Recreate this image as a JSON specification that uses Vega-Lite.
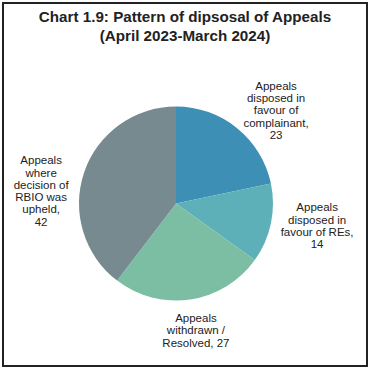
{
  "$schema": "https://vega.github.io/schema/vega-lite/v6.json",
  "width": 364,
  "height": 363,
  "autosize": {"type": "none"},
  "padding": {"left": 3, "top": 3, "right": 4, "bottom": 5},
  "background": "white",
  "config": {
    "view": {"stroke": null},
    "font": "Liberation Sans"
  },
  "title": {
    "text": ["Chart 1.9: Pattern of dipsosal of Appeals", "(April 2023-March 2024)"],
    "font": "Liberation Sans",
    "fontSize": 15.2,
    "fontWeight": "bold",
    "color": "#222222",
    "anchor": "middle",
    "frame": "group",
    "baseline": "top",
    "offset": -42,
    "lineHeight": 19
  },
  "data": {
    "values": [
      {"category": "complainant", "label": "Appeals\ndisposed in\nfavour of\ncomplainant,\n23", "value": 23, "order": 1},
      {"category": "REs", "label": "Appeals\ndisposed in\nfavour of REs,\n14", "value": 14, "order": 2},
      {"category": "withdrawn", "label": "Appeals\nwithdrawn /\nResolved, 27", "value": 27, "order": 3},
      {"category": "upheld", "label": "Appeals\nwhere\ndecision of\nRBIO was\nupheld,\n42", "value": 42, "order": 4}
    ]
  },
  "encoding": {
    "theta": {"field": "value", "type": "quantitative", "stack": true},
    "order": {"field": "order", "type": "quantitative"}
  },
  "layer": [
    {
      "mark": {"type": "rect", "fill": "transparent", "stroke": "#222222", "strokeWidth": 1.5},
      "encoding": {"theta": null, "order": null}
    },
    {
      "mark": {"type": "arc", "outerRadius": 97, "xOffset": -9, "yOffset": 19},
      "encoding": {
        "color": {
          "field": "category",
          "type": "nominal",
          "scale": {
            "domain": ["complainant", "REs", "withdrawn", "upheld"],
            "range": ["#3d8fb5", "#5eb0b8", "#7bbea4", "#778a8f"]
          },
          "legend": null
        }
      }
    },
    {
      "mark": {"type": "text", "radius": 135, "xOffset": -9, "yOffset": 18, "dx": 15, "dy": -11, "fontSize": 11.5, "lineHeight": 12.3, "lineBreak": "\n", "color": "#222222", "align": "center", "baseline": "middle"},
      "encoding": {"text": {"condition": {"test": "datum.order == 1", "field": "label"}, "value": ""}}
    },
    {
      "mark": {"type": "text", "radius": 135, "xOffset": -9, "yOffset": 18, "dx": 9, "dy": -22, "fontSize": 11.5, "lineHeight": 12.3, "lineBreak": "\n", "color": "#222222", "align": "center", "baseline": "middle"},
      "encoding": {"text": {"condition": {"test": "datum.order == 2", "field": "label"}, "value": ""}}
    },
    {
      "mark": {"type": "text", "radius": 135, "xOffset": -9, "yOffset": 18, "dx": 0, "dy": -17, "fontSize": 11.5, "lineHeight": 12.3, "lineBreak": "\n", "color": "#222222", "align": "center", "baseline": "middle"},
      "encoding": {"text": {"condition": {"test": "datum.order == 3", "field": "label"}, "value": ""}}
    },
    {
      "mark": {"type": "text", "radius": 135, "xOffset": -9, "yOffset": 18, "dx": -7, "dy": 2, "fontSize": 11.5, "lineHeight": 12.3, "lineBreak": "\n", "color": "#222222", "align": "center", "baseline": "middle"},
      "encoding": {"text": {"condition": {"test": "datum.order == 4", "field": "label"}, "value": ""}}
    }
  ]
}
